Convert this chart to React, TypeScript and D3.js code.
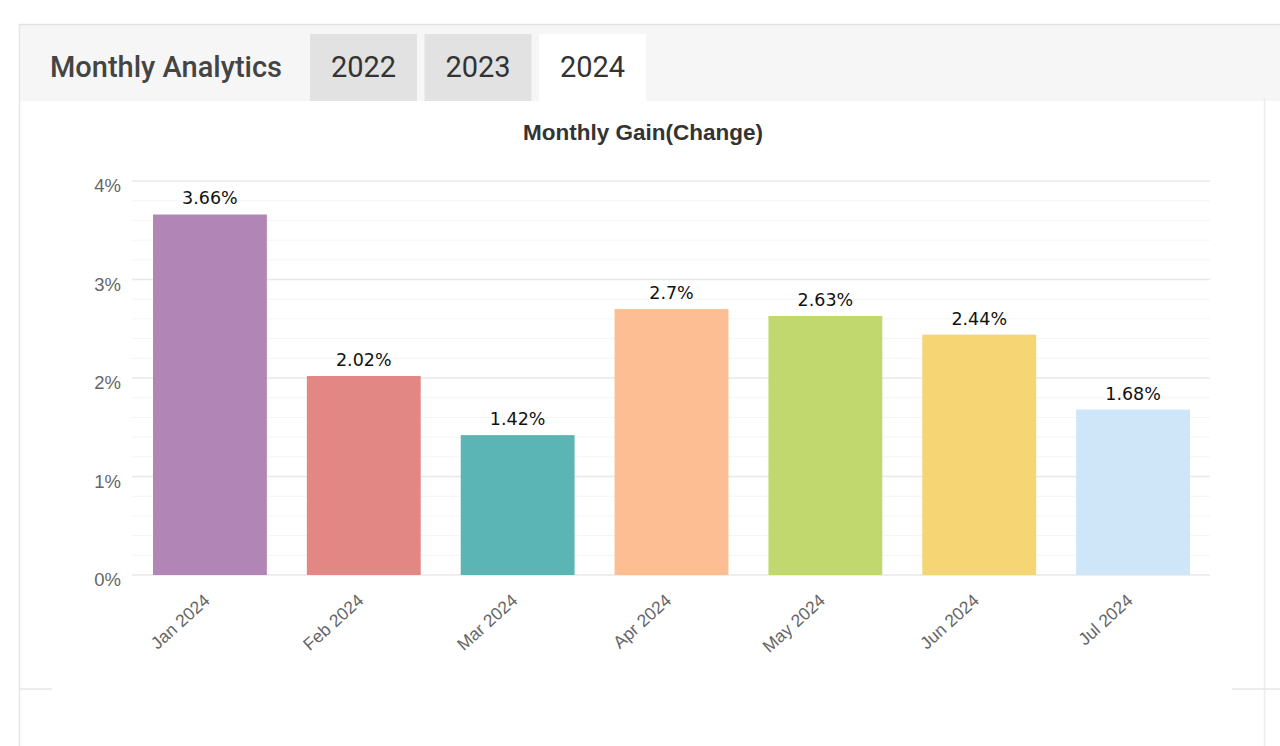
import React from 'react'
import * as d3 from 'd3'

// chart data
const months = ['Jan 2024', 'Feb 2024', 'Mar 2024', 'Apr 2024', 'May 2024', 'Jun 2024', 'Jul 2024']
const gains = [3.66, 2.02, 1.42, 2.7, 2.63, 2.44, 1.68]
const barColors = ['#b185b5', '#e28784', '#5bb5b5', '#fdbe94', '#c0d86e', '#f5d574', '#cfe6f9']
const yTicks = [0, 1, 2, 3, 4]
const years = ['2022', '2023', '2024']
const activeYear = '2024'

const W = 1280,
    H = 746

const App = () => {
    // scales
    const x = d3.scaleBand<string>()
        .domain(months)
        .range([133, 1210])
        .paddingInner(0.26)
        .paddingOuter(0.13)

    const y = d3.scaleLinear()
        .domain([0, 4])
        .range([575, 181])

    // minor grid every 0.2%
    const minorTicks = d3.range(0, 4.0001, 0.2).filter(v => Math.abs(v - Math.round(v)) > 0.01)

    const tabX = d3.scaleBand<string>().domain(years).range([310, 646]).paddingInner(0.0655).paddingOuter(0)

    return (
        <svg width={W} height={H} style={{ position: 'absolute', left: 0, top: 0, background: '#fff' }}>
            {/* card frame */}
            <rect x={19} y={24} width={W - 19} height={77} fill="#f6f6f6" />
            <line x1={19} x2={W} y1={24.5} y2={24.5} stroke="#e2e2e2" strokeWidth={1.5} />
            <line x1={19.5} x2={19.5} y1={24} y2={H} stroke="#e6e6e6" strokeWidth={1.5} />
            <line x1={1264.5} x2={1264.5} y1={98} y2={H} stroke="#ececec" strokeWidth={1.5} />
            <line x1={19} x2={52} y1={689} y2={689} stroke="#e6e6e6" strokeWidth={1.5} />
            <line x1={1232} x2={W} y1={689} y2={689} stroke="#e6e6e6" strokeWidth={1.5} />

            {/* header */}
            <text x={50} y={77} fontFamily="Roboto" fontWeight={500} fontSize={29} fill="#444">Monthly Analytics</text>
            {years.map(yr => (
                <g key={yr}>
                    <rect x={tabX(yr)} y={34} width={tabX.bandwidth()} height={67}
                        fill={yr === activeYear ? '#ffffff' : '#e2e2e2'} />
                    <text x={(tabX(yr) ?? 0) + tabX.bandwidth() / 2} y={77} textAnchor="middle"
                        fontFamily="Roboto" fontSize={29} fill="#333">{yr}</text>
                </g>
            ))}

            {/* title */}
            <text x={643} y={140} textAnchor="middle" fontFamily="Liberation Sans, Arial" fontWeight="bold"
                fontSize={22.5} fill="#333">Monthly Gain(Change)</text>

            {/* grid */}
            {minorTicks.map(v => (
                <line key={'m' + v} x1={132} x2={1210} y1={y(v)} y2={y(v)} stroke="#f4f4f4" strokeWidth={1} />
            ))}
            {yTicks.map(v => (
                <line key={'g' + v} x1={132} x2={1210} y1={y(v)} y2={y(v)} stroke="#e8e8e8" strokeWidth={1.5} />
            ))}

            {/* y axis labels */}
            {yTicks.map(v => (
                <text key={'t' + v} x={121} y={y(v) + 11} textAnchor="end" fontFamily="Liberation Sans, Arial"
                    fontSize={18.5} fill="#666">{v}%</text>
            ))}

            {/* bars */}
            {months.map((m, i) => (
                <rect key={m} x={x(m)} y={y(gains[i])} width={x.bandwidth()} height={y(0) - y(gains[i])}
                    fill={barColors[i]} />
            ))}

            {/* value labels */}
            {months.map((m, i) => (
                <text key={'v' + m} x={(x(m) ?? 0) + x.bandwidth() / 2} y={y(gains[i]) - 10} textAnchor="middle"
                    fontFamily="DejaVu Sans" fontSize={17.5} fill="#111">{gains[i]}%</text>
            ))}

            {/* x axis labels */}
            {months.map(m => {
                const cx = (x(m) ?? 0) + x.bandwidth() / 2 + 1
                const cy = 602
                return (
                    <text key={'x' + m} x={cx} y={cy} textAnchor="end" transform={`rotate(-42,${cx},${cy})`}
                        fontFamily="Liberation Sans, Arial" fontSize={17.5} fill="#666">{m}</text>
                )
            })}
        </svg>
    )
}

export default App
